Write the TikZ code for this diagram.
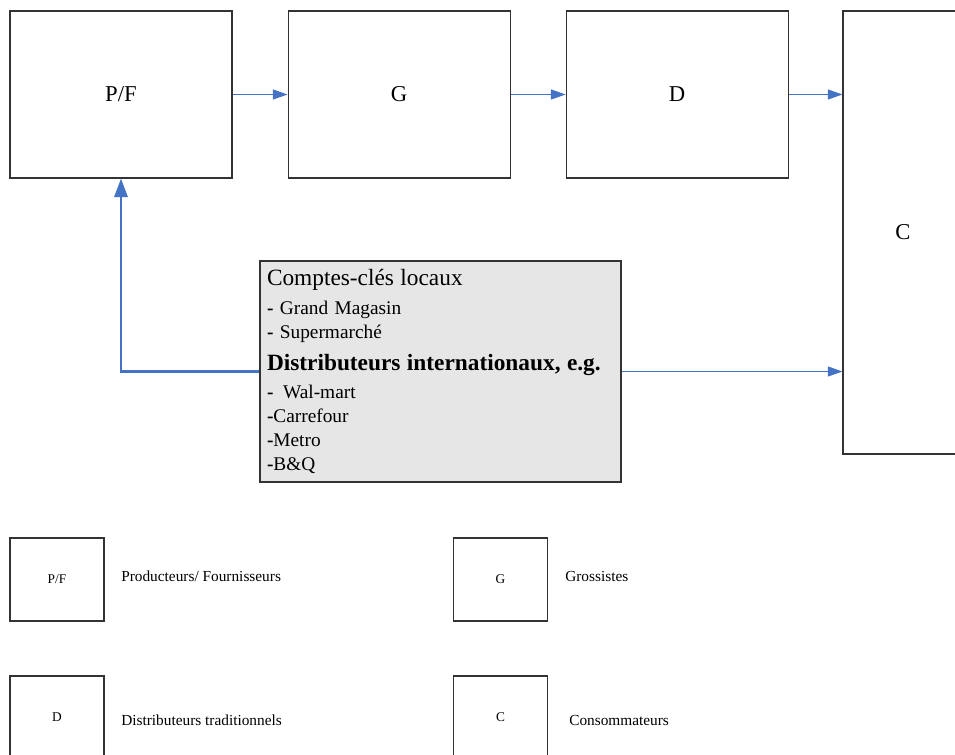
\documentclass[tikz,border=0pt]{standalone}
\usepackage{fontspec}
\setmainfont{Liberation Serif}
\usetikzlibrary{arrows.meta,positioning}
\definecolor{flowBlue}{HTML}{4472C4}
\definecolor{keyGray}{HTML}{E6E6E6}

\begin{document}
\begin{tikzpicture}[
  x=0.75pt, y=-0.75pt,
  node distance=41.25pt,
  actor/.style={draw=black!80, line width=0.8pt, minimum width=166.5pt,
                minimum height=125.25pt, inner sep=0pt,
                font=\fontsize{17}{20}\selectfont},
  legend/.style={draw=black!80, line width=0.8pt, minimum width=70.5pt,
                 minimum height=62.25pt, font=\fontsize{10}{12}\selectfont},
  desc/.style={anchor=west, inner sep=0pt, font=\fontsize{11.5}{14}\selectfont},
  arr/.style={-{Triangle[length=11pt,width=7.5pt]}, flowBlue, line width=0.75pt},
  bigarr/.style={-{Triangle[length=14pt,width=10pt]}, flowBlue, line width=1.9pt},
]
  \useasboundingbox (0,0) rectangle (955,755);

  \node[actor] (pf) at (121,94.5) {P/F};
  \node[actor, right=of pf] (g) {G};
  \node[actor, right=of g] (d) {D};
  \node[actor, minimum width=90pt, minimum height=332.25pt] (c) at (903,232.5) {C};

  \node[draw=black!80, fill=keyGray, line width=0.8pt, align=left,
        text width=260.25pt, inner xsep=5.25pt, minimum height=165.75pt,
        font=\fontsize{14.5}{18}\selectfont] (keys) at (440.5,371.5)
    {{\fontsize{17.5}{18}\selectfont Comptes-clés locaux}\\[4pt]
     \textbf{-} Grand Magasin\\
     \textbf{-} Supermarché\\[6pt]
     {\fontsize{17.5}{18}\selectfont\bfseries Distributeurs internationaux, e.g.}\\[3pt]
     \textbf{-}\ \,Wal-mart\\
     \textbf{-}Carrefour\\
     \textbf{-}Metro\\
     \textbf{-}B\&Q};

  \draw[arr] (pf) -- (g);
  \draw[arr] (g) -- (d);
  \draw[arr] (d.east) -- (d.east -| c.west);
  \draw[arr] (keys.east) -- (keys.east -| c.west);
  \draw[bigarr] (keys.west) -| (pf.south);

  % legend
  \node[legend] (lpf) at (57,579.5) {P/F};
  \node[legend] (lg) at (500.5,579.5) {G};
  \node[legend] (ld) at (57,717.5) {D};
  \node[legend] (lc) at (500.5,717.5) {C};
  \node[desc] (tpf) at (121,576) {Producteurs/ Fournisseurs};
  \node[desc] (tg) at (565,576) {Grossistes};
  \node[desc] (td) at (121,720) {Distributeurs traditionnels};
  \node[desc] (tc) at (569,720) {Consommateurs};
\end{tikzpicture}
\end{document}
